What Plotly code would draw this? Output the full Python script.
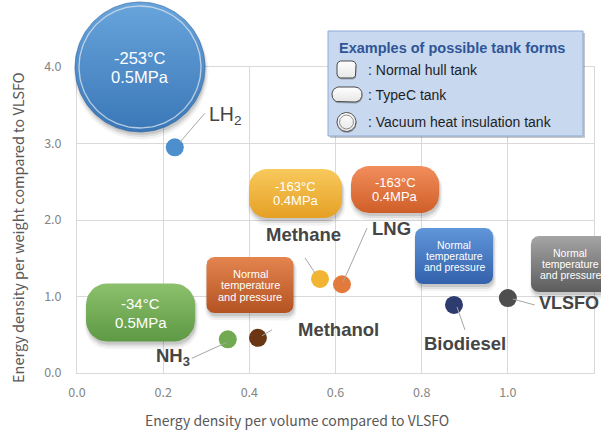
import math
import plotly.graph_objects as go

# ---------------- data ----------------
fuels = ["LH2", "Methane", "LNG", "NH3", "Methanol", "Biodiesel", "VLSFO"]
fuel_labels = ["LH<sub>2</sub>", "Methane", "LNG", "NH<sub>3</sub>", "Methanol", "Biodiesel", "VLSFO"]
vol_density = [0.227, 0.564, 0.615, 0.350, 0.420, 0.875, 1.000]
wt_density = [2.95, 1.23, 1.16, 0.44, 0.46, 0.89, 0.98]
dot_colors = ["#4d8fcc", "#f2b533", "#e27a3c", "#72aa52", "#6b3614", "#2e3b6f", "#4e4e4e"]

x_tick_vals = [0.0, 0.2, 0.4, 0.6, 0.8, 1.0, 1.2]
x_tick_text = ["0.0", "0.2", "0.4", "0.6", "0.8", "1.0", "1.2"]
y_tick_vals = [0.0, 1.0, 2.0, 3.0, 4.0]
y_tick_text = ["0.0", "1.0", "2.0", "3.0", "4.0"]
x_title = "Energy density per volume compared to VLSFO"
y_title = "Energy density per weight compared to VLSFO"

storage_conditions = [
    ["-253°C", "0.5MPa"],
    ["-163°C", "0.4MPa"],
    ["-163°C", "0.4MPa"],
    ["-34°C", "0.5MPa"],
    ["Normal", "temperature", "and pressure"],
    ["Normal", "temperature", "and pressure"],
    ["Normal", "temperature", "and pressure"],
]
legend_title = "Examples of possible tank forms"
legend_items = [": Normal hull tank", ": TypeC tank", ": Vacuum heat insulation tank"]

# ---------------- geometry / style ----------------
W, H = 601, 432
PL, PR, PT, PB = 77, 594, 67, 373
AX_FONT = "Noto Sans CJK JP"
TXT_FONT = "Liberation Sans, Arial"

fig = go.Figure()


def rrect_xy(cx, cy, w, h, r, n=10):
    xs, ys = [], []
    corners = [(cx + w / 2 - r, cy - h / 2 + r, -90), (cx + w / 2 - r, cy + h / 2 - r, 0),
               (cx - w / 2 + r, cy + h / 2 - r, 90), (cx - w / 2 + r, cy - h / 2 + r, 180)]
    for ox, oy, a0 in corners:
        for k in range(n + 1):
            a = math.radians(a0 + 90 * k / n)
            xs.append(ox + r * math.cos(a))
            ys.append(oy + r * math.sin(a))
    xs.append(xs[0])
    ys.append(ys[0])
    return xs, ys


def add_poly(xs, ys, fill=None, grad=None, line_color=None, line_width=0):
    kw = dict(x=xs, y=ys, mode="lines", fill="toself", xaxis="x2", yaxis="y2",
              hoverinfo="skip", showlegend=False,
              line=dict(width=line_width, color=line_color or "rgba(0,0,0,0)"))
    if grad is not None:
        kw["fillgradient"] = grad
    else:
        kw["fillcolor"] = fill
    fig.add_trace(go.Scatter(**kw))


def add_blob(cx, cy, w, h, r, top, bottom, n=10):
    for dx, dy, g, a in [(1, 5, 5, 0.05), (1, 4, 2, 0.08), (1, 3, 0, 0.10)]:
        xs, ys = rrect_xy(cx + dx, cy + dy, w + g, h + g, min(r + g / 2, (h + g) / 2), n)
        add_poly(xs, ys, fill="rgba(0,0,0,%s)" % a)
    xs, ys = rrect_xy(cx, cy, w, h, r, n)
    add_poly(xs, ys, grad=dict(type="vertical", colorscale=[[0, top], [1, bottom]],
                               start=cy - h / 2, stop=cy + h / 2))


def add_lines_text(cx, cy, lines, size, gap, color="white"):
    n = len(lines)
    for i, t in enumerate(lines):
        fig.add_annotation(x=cx, y=cy + (i - (n - 1) / 2) * gap, xref="x2", yref="y2",
                           text=t, showarrow=False, xanchor="center", yanchor="middle",
                           font=dict(family=TXT_FONT, size=size, color=color))


# callout shapes (pixel placement): cx, cy, w, h, radius, top colour, bottom colour, font size, line gap
callouts = [
    (140, 67, 130, 130, 65, "#68a5dc", "#3a77b7", 16.5, 19),
    (295.5, 193.5, 93, 49, 18, "#f8c95c", "#e6a024", 13, 14.5),
    (395, 189.5, 88, 47, 18, "#f28e5c", "#cf5e28", 13, 14.5),
    (140.5, 312.5, 109, 58, 21, "#8cc06c", "#5e9944", 15, 19),
    (250, 285, 87, 56, 8, "#e4844f", "#b35322", 11, 11.5),
    (454, 256, 78, 56, 8, "#6096da", "#3361ab", 10.5, 11),
    (570, 264, 78, 56, 8, "#a5a5a5", "#5c5c5c", 10.5, 11),
]

# ---------------- legend-like box ----------------
add_poly([330, 585, 585, 330, 330], [33, 33, 138, 138, 33], fill="rgba(0,0,0,0.22)")
add_poly([328, 583, 583, 328, 328], [31, 31, 136, 136, 31], fill="#c8d8ee",
         line_color="#8eaad8", line_width=1)

for (cx, cy, w, h, r, top, bottom, fs, gap), cond in zip(callouts, storage_conditions):
    add_blob(cx, cy, w, h, r, top, bottom, n=(40 if w == h else 10))
    add_lines_text(cx, cy, cond, fs, gap)

# ring inside big circle
cx, cy, w, h, r = callouts[0][:5]
xs, ys = rrect_xy(cx, cy, 2 * (r - 4), 2 * (r - 4), r - 4, 40)
fig.add_trace(go.Scatter(x=xs, y=ys, mode="lines", xaxis="x2", yaxis="y2", hoverinfo="skip",
                         showlegend=False, line=dict(color="rgba(215,225,235,0.8)", width=1.3)))
xs, ys = rrect_xy(cx, cy, 2 * r, 2 * r, r, 40)
fig.add_trace(go.Scatter(x=xs, y=ys, mode="lines", xaxis="x2", yaxis="y2", hoverinfo="skip",
                         showlegend=False, line=dict(color="rgba(50,100,160,0.6)", width=1)))

# legend icons
icons = [(346.5, 69.5, 19, 17, 4), (347, 94.5, 30, 15, 7), (346.5, 122, 19, 19, 9.5)]
for (cx, cy, w, h, r) in icons:
    xs, ys = rrect_xy(cx + 0.5, cy + 1.5, w, h, r, 12)
    add_poly(xs, ys, fill="rgba(0,0,0,0.25)")
    xs, ys = rrect_xy(cx, cy, w, h, r, 12)
    add_poly(xs, ys, grad=dict(type="vertical", colorscale=[[0, "#ffffff"], [1, "#e6e6e6"]],
                               start=cy - h / 2, stop=cy + h / 2),
             line_color="#4a4a4a", line_width=1)
cx, cy, w, h, r = icons[2]
xs, ys = rrect_xy(cx, cy, 14, 14, 7, 12)
fig.add_trace(go.Scatter(x=xs, y=ys, mode="lines", xaxis="x2", yaxis="y2", hoverinfo="skip",
                         showlegend=False, line=dict(color="#8a8a8a", width=1)))

fig.add_annotation(x=337, y=48, xref="x2", yref="y2", text="<b>%s</b>" % legend_title,
                   showarrow=False, xanchor="left", yanchor="middle",
                   font=dict(family=TXT_FONT, size=14.5, color="#2f5597"))
for (cx, cy, w, h, r), item in zip(icons, legend_items):
    fig.add_annotation(x=366, y=cy, xref="x2", yref="y2", text=item, showarrow=False,
                       xanchor="left", yanchor="middle",
                       font=dict(family=TXT_FONT, size=14, color="#1e1e1e"))

# ---------------- data points ----------------
fig.add_trace(go.Scatter(x=vol_density, y=wt_density, mode="markers", text=fuels,
                         marker=dict(size=18, color=dot_colors, line=dict(width=0)),
                         hoverinfo="text", showlegend=False, cliponaxis=False))

# labels + leader lines (pixel offsets relative to each point, y up)
label_style = [
    dict(dx=32, dy=32, xanchor="left", bold=False, size=19.5),
    dict(dx=-16, dy=44, xanchor="center", bold=True, size=18.5),
    dict(dx=50, dy=56, xanchor="center", bold=True, size=18.5),
    dict(dx=-74, dy=-18, xanchor="left", bold=True, size=18.5),
    dict(dx=38, dy=8, xanchor="left", bold=True, size=18.5),
    dict(dx=11, dy=-39, xanchor="center", bold=True, size=18.5),
    dict(dx=29, dy=-5, xanchor="left", bold=True, size=18),
]
leaders = [(5, 5, 30, 34), (-5, 6, -15, 21), (1, 2, 25, 56), (-1, -3, -36, -19),
           (4, 2, 14, 8), (3, -2, 11, -25), (5, -1, 27, -7)]

for xv, yv, lab, st, ld in zip(vol_density, wt_density, fuel_labels, label_style, leaders):
    txt = "<b>%s</b>" % lab if st["bold"] else lab
    fig.add_annotation(x=xv, y=yv, xref="x", yref="y", text=txt, showarrow=False,
                       xanchor=st["xanchor"], yanchor="middle", xshift=st["dx"], yshift=st["dy"],
                       font=dict(family=TXT_FONT, size=st["size"], color="#454545"))
    fig.add_shape(type="line", xref="x", yref="y", xsizemode="pixel", ysizemode="pixel",
                  xanchor=xv, yanchor=yv, x0=ld[0], y0=ld[1], x1=ld[2], y1=ld[3],
                  line=dict(color="#a6a6a6", width=1))

# axis titles
fig.add_annotation(x=297, y=420, xref="x2", yref="y2", text=x_title, showarrow=False,
                   borderpad=0, font=dict(family=AX_FONT, size=14, color="#595959"))
fig.add_annotation(x=17, y=228, xref="x2", yref="y2", text=y_title, showarrow=False, textangle=-90,
                   borderpad=0, font=dict(family=AX_FONT, size=14.5, color="#595959"))

grid = "#d9d9d9"
fig.update_layout(
    width=W, height=H, margin=dict(l=0, r=0, t=0, b=0, pad=0), autosize=False,
    paper_bgcolor="white", plot_bgcolor="rgba(0,0,0,0)", showlegend=False,
    xaxis=dict(domain=[PL / W, PR / W], range=[0, 1.2], tickvals=x_tick_vals, ticktext=x_tick_text,
               showgrid=True, gridcolor=grid, showline=True, mirror=True, linecolor=grid,
               zeroline=False, ticks="outside", ticklen=8, tickcolor="rgba(0,0,0,0)", automargin=False,
               tickfont=dict(family=AX_FONT, size=12.5, color="#858585"), anchor="y", fixedrange=True),
    yaxis=dict(domain=[1 - PB / H, 1 - PT / H], range=[0, 4], tickvals=y_tick_vals, ticktext=y_tick_text,
               showgrid=True, gridcolor=grid, showline=True, mirror=True, linecolor=grid,
               zeroline=False, ticks="outside", ticklen=12, tickcolor="rgba(0,0,0,0)", automargin=False,
               tickfont=dict(family=AX_FONT, size=12.5, color="#858585"), anchor="x", fixedrange=True),
    xaxis2=dict(domain=[0, 1], range=[0, W], visible=False, anchor="y2", fixedrange=True, automargin=False),
    yaxis2=dict(domain=[0, 1], range=[H, 0], visible=False, anchor="x2", fixedrange=True, automargin=False),
)

fig.write_html("out.html", config={"displayModeBar": False},
               post_script="document.body.style.margin='0';document.body.style.overflow='hidden';")
